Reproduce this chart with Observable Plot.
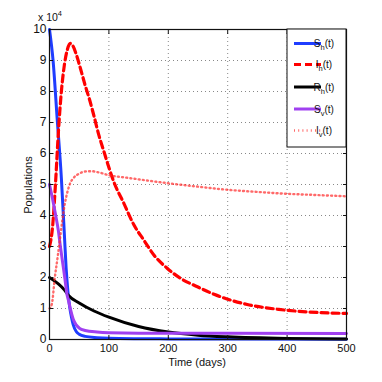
<!DOCTYPE html>
<html>
<head>
<meta charset="utf-8">
<script src="https://cdn.jsdelivr.net/npm/d3@7"></script>
<script src="https://cdn.jsdelivr.net/npm/@observablehq/plot@0.6"></script>
<style>
  html, body { margin: 0; padding: 0; background: white; }
  #chart { width: 382px; height: 382px; }
</style>
</head>
<body>
<div id="chart"></div>
<script>
// ---- data (values in units of 10^4) ----
const xTicks = [0, 100, 200, 300, 400, 500];
const yTicks = [0, 1, 2, 3, 4, 5, 6, 7, 8, 9, 10];

const shT = [0, 6, 13, 20, 25, 28, 31, 34, 37, 40, 45, 50, 60, 80, 100, 150, 200, 300, 500];
const shV = [10, 9, 7.1, 5.2, 3.4, 2.3, 1.55, 1.05, 0.72, 0.47, 0.26, 0.17, 0.1, 0.06, 0.04, 0.025, 0.02, 0.015, 0.01];

const ihT = [0, 5, 10, 15, 20, 25, 30, 35, 40, 45, 52, 60, 68, 75, 83, 91, 100, 108, 125, 142, 159, 176, 198, 220, 249, 277, 300, 333, 386, 434, 500];
const ihV = [3.0, 3.6, 5.0, 6.7, 8.0, 8.85, 9.35, 9.55, 9.45, 9.2, 8.75, 8.2, 7.7, 7.2, 6.6, 6.1, 5.55, 5.1, 4.4, 3.7, 3.2, 2.72, 2.3, 1.98, 1.7, 1.46, 1.3, 1.13, 0.97, 0.89, 0.84];

const rhT = [0, 25, 32, 50, 75, 100, 150, 200, 250, 300, 400, 500];
const rhV = [2, 1.6, 1.42, 1.18, 0.92, 0.72, 0.42, 0.24, 0.14, 0.085, 0.035, 0.02];

const svT = [0, 5, 10, 15, 18, 22, 26, 29, 32, 35, 40, 45, 50, 60, 80, 100, 200, 300, 500];
const svV = [5, 4.55, 4.05, 3.5, 3.05, 2.5, 1.95, 1.5, 1.25, 1.0, 0.65, 0.47, 0.37, 0.29, 0.24, 0.22, 0.2, 0.2, 0.19];

const ivT = [0, 4, 9, 14, 18, 22, 26, 30, 35, 40, 50, 60, 70, 85, 100, 130, 160, 200, 250, 300, 350, 400, 450, 500];
const ivV = [1.0, 1.15, 2.0, 2.7, 3.3, 3.9, 4.4, 4.75, 5.05, 5.2, 5.35, 5.42, 5.43, 5.38, 5.3, 5.22, 5.14, 5.04, 4.93, 4.83, 4.76, 4.7, 4.66, 4.62];

const seriesNames = ["S", "I", "R", "S", "I"];
const seriesSubs = ["h", "h", "h", "v", "v"];

// ---- build tables ----
const zip = (t, v) => t.map((d, i) => ({t: d, v: v[i]}));
const series = [
  {data: zip(shT, shV), stroke: "#1f3dff", width: 3, dash: null, opacity: 1},
  {data: zip(ihT, ihV), stroke: "#ff0000", width: 3.2, dash: "7,4", opacity: 1},
  {data: zip(rhT, rhV), stroke: "#000000", width: 3, dash: null, opacity: 1},
  {data: zip(svT, svV), stroke: "#a040f0", width: 3, dash: null, opacity: 1},
  {data: zip(ivT, ivV), stroke: "#ff2a2a", width: 2.4, dash: "1,3.2", opacity: 0.7}
];

const font = "'Liberation Sans', Arial, Helvetica, sans-serif";

const chart = Plot.plot({
  width: 382,
  height: 382,
  marginLeft: 49,
  marginRight: 36,
  marginTop: 29,
  marginBottom: 43,
  style: {fontFamily: font, fontSize: "11px", background: "white", color: "#111"},
  x: {domain: [0, 500]},
  y: {domain: [0, 10]},
  marks: [
    Plot.gridX(xTicks, {stroke: "#888", strokeOpacity: 1, strokeDasharray: "1,3"}),
    Plot.gridY(yTicks, {stroke: "#888", strokeOpacity: 1, strokeDasharray: "1,3"}),
    ...series.map(s => Plot.line(s.data, {
      x: "t", y: "v", stroke: s.stroke, strokeWidth: s.width,
      strokeDasharray: s.dash, strokeOpacity: s.opacity, curve: "monotone-x"
    })),
    Plot.frame({stroke: "#111", strokeWidth: 1.2}),
    Plot.axisX(xTicks, {anchor: "bottom", tickSize: 0, tickPadding: 5, label: null}),
    Plot.axisY(yTicks, {anchor: "left", tickSize: 0, tickPadding: 3, label: null, fontSize: 12}),
    Plot.axisX(xTicks, {anchor: "bottom", tickSize: -4, fill: "none", label: null}),
    Plot.axisX(xTicks, {anchor: "top", tickSize: -4, fill: "none", label: null}),
    Plot.axisY(yTicks, {anchor: "left", tickSize: -4, fill: "none", label: null}),
    Plot.axisY(yTicks, {anchor: "right", tickSize: -4, fill: "none", label: null})
  ]
});

document.getElementById("chart").appendChild(chart);

const svg = d3.select(chart);

// axis labels
svg.append("text")
  .attr("x", 197).attr("y", 366)
  .attr("text-anchor", "middle")
  .style("font-family", font).style("font-size", "11px").attr("fill", "#111")
  .text("Time (days)");
svg.append("text")
  .attr("transform", "translate(32,185) rotate(-90)")
  .attr("text-anchor", "middle")
  .style("font-family", font).style("font-size", "11px").attr("fill", "#111")
  .text("Populations");

// exponent label
const ex = svg.append("text")
  .attr("x", 50).attr("y", 21)
  .style("font-family", font).style("font-size", "10.5px").attr("fill", "#111");
ex.append("tspan").text("x 10");
ex.append("tspan").attr("dy", -5).style("font-size", "7.5px").text("4");

// legend
const lg = svg.append("g");
lg.append("rect")
  .attr("x", 287).attr("y", 29).attr("width", 59).attr("height", 118)
  .attr("fill", "white").attr("stroke", "#111").attr("stroke-width", 1);
const rowY = [43.5, 64.5, 87, 109, 130.5];
series.forEach((s, i) => {
  const y = rowY[i];
  lg.append("line")
    .attr("x1", 294).attr("x2", 321).attr("y1", y).attr("y2", y)
    .attr("stroke", s.stroke).attr("stroke-width", s.width)
    .attr("stroke-opacity", s.opacity)
    .attr("stroke-dasharray", s.dash);
  const t = lg.append("text")
    .attr("x", 324).attr("y", y + 3.5)
    .style("font-family", font).style("font-size", "10px").attr("fill", "#111");
  t.append("tspan").text(seriesNames[i]);
  t.append("tspan").attr("dy", 3).style("font-size", "7.5px").text(seriesSubs[i]);
  t.append("tspan").attr("dy", -3).text("(t)");
});
</script>
</body>
</html>
